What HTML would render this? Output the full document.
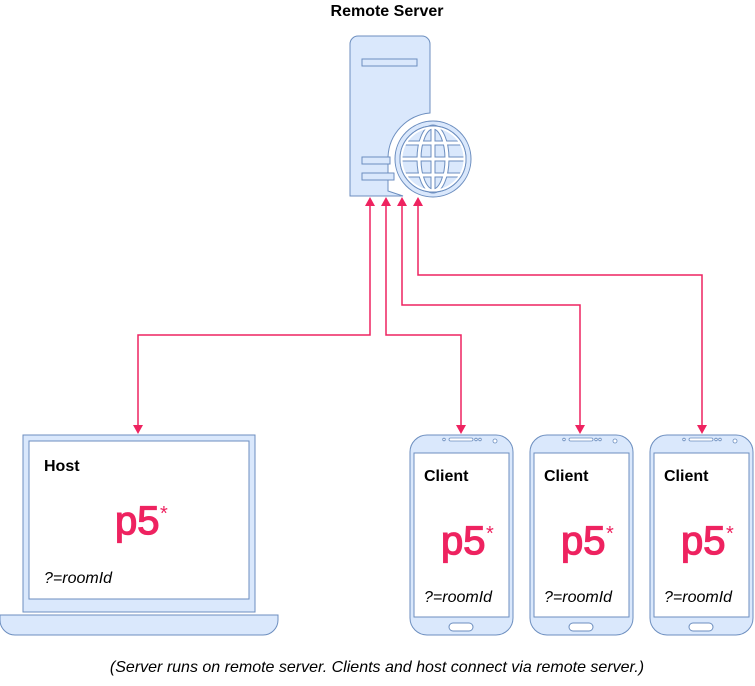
<!DOCTYPE html>
<html><head><style>
body{margin:0;background:#fff;}
svg text{font-family:"Liberation Sans",sans-serif;}
</style></head><body>
<svg width="755" height="681" viewBox="0 0 755 681" xmlns="http://www.w3.org/2000/svg">
<text x="387" y="16" font-size="16" font-weight="bold" text-anchor="middle">Remote Server</text>
<!-- server -->
<path d="M358,36 H422 a8,8 0 0 1 8,8 V113 A46,46 0 0 0 388,157 V191 L403,196 H350 V44 a8,8 0 0 1 8,-8 Z" fill="#dae8fc" stroke="#6c8ebf" stroke-width="1"/>
<rect x="362" y="59" width="55" height="7" fill="#dae8fc" stroke="#6c8ebf"/>
<rect x="362" y="157" width="28" height="7" fill="#dae8fc" stroke="#6c8ebf"/>
<rect x="362" y="173" width="32" height="7" fill="#dae8fc" stroke="#6c8ebf"/>
<circle cx="433" cy="159" r="41" fill="#fff"/>
<circle cx="433" cy="159" r="38" fill="#dae8fc" stroke="#6c8ebf"/>
<circle cx="433" cy="159" r="33" fill="#fff" stroke="#6c8ebf"/>
<circle cx="433" cy="159" r="31" fill="#dae8fc"/>
<g fill="none">
<g stroke="#6c8ebf" stroke-width="5">
<ellipse cx="433" cy="159" rx="14" ry="32"/>
<line x1="433" y1="127" x2="433" y2="191"/>
<line x1="401" y1="159" x2="465" y2="159"/>
<line x1="405" y1="143" x2="461" y2="143"/>
<line x1="405" y1="175" x2="461" y2="175"/>
</g>
<g stroke="#fff" stroke-width="3">
<ellipse cx="433" cy="159" rx="14" ry="32"/>
<line x1="433" y1="127" x2="433" y2="191"/>
<line x1="401" y1="159" x2="465" y2="159"/>
<line x1="405" y1="143" x2="461" y2="143"/>
<line x1="405" y1="175" x2="461" y2="175"/>
</g>
</g>
<circle cx="433" cy="159" r="33" fill="none" stroke="#6c8ebf"/>
<circle cx="433" cy="159" r="31.5" fill="none" stroke="#fff" stroke-width="2"/>
<!-- connectors -->
<g stroke="#ee2360" stroke-width="1.5" fill="none">
<path d="M370,206 V335 H138 V425"/>
<path d="M386,206 V335 H461 V425"/>
<path d="M402,206 V305 H580 V425"/>
<path d="M418,206 V275 H702 V425"/>
</g>
<g fill="#ee2360">
<path d="M365,206 L375,206 L370,197 Z"/>
<path d="M381,206 L391,206 L386,197 Z"/>
<path d="M397,206 L407,206 L402,197 Z"/>
<path d="M413,206 L423,206 L418,197 Z"/>
<path d="M133,425 L143,425 L138,434 Z"/>
<path d="M456,425 L466,425 L461,434 Z"/>
<path d="M575,425 L585,425 L580,434 Z"/>
<path d="M697,425 L707,425 L702,434 Z"/>
</g>
<!-- laptop -->
<rect x="23" y="435" width="232" height="177" fill="#dae8fc" stroke="#6c8ebf"/>
<rect x="29" y="441" width="220" height="158" fill="#fff" stroke="#6c8ebf"/>
<path d="M0,615 H278 V620 a15,15 0 0 1 -15,15 H15 a15,15 0 0 1 -15,-15 Z" fill="#dae8fc" stroke="#6c8ebf"/>
<text x="44" y="471" font-size="16" font-weight="bold">Host</text>
<text x="115" y="534" font-size="40" fill="#ee2360" stroke="#ee2360" stroke-width="1.3">p5</text>
<text x="160" y="520" font-size="20" fill="#ee2360">*</text>
<text x="44" y="583" font-size="16" font-style="italic">?=roomId</text>
<!-- phones -->
<g id="ph">
<rect x="410" y="435" width="103" height="200" rx="17" fill="#dae8fc" stroke="#6c8ebf"/>
<rect x="414" y="453" width="95" height="164" fill="#fff" stroke="#6c8ebf"/>
<rect x="449" y="438" width="24" height="3" rx="1.5" fill="#fff" stroke="#6c8ebf" stroke-width="0.8"/>
<circle cx="444" cy="439.5" r="1.3" fill="#fff" stroke="#6c8ebf" stroke-width="0.8"/>
<circle cx="476" cy="439.5" r="1.3" fill="#fff" stroke="#6c8ebf" stroke-width="0.8"/>
<circle cx="480" cy="439.5" r="1.3" fill="#fff" stroke="#6c8ebf" stroke-width="0.8"/>
<circle cx="495" cy="441" r="2" fill="#fff" stroke="#6c8ebf" stroke-width="0.8"/>
<rect x="449" y="623" width="24" height="8" rx="4" fill="#fff" stroke="#6c8ebf"/>
<text x="424" y="481" font-size="16" font-weight="bold">Client</text>
<text x="441" y="554" font-size="40" fill="#ee2360" stroke="#ee2360" stroke-width="1.3">p5</text>
<text x="486" y="540" font-size="20" fill="#ee2360">*</text>
<text x="424" y="602" font-size="16" font-style="italic">?=roomId</text>
</g>
<use href="#ph" x="120"/>
<use href="#ph" x="240"/>
<text x="377" y="672" font-size="16" font-style="italic" text-anchor="middle">(Server runs on remote server. Clients and host connect via remote server.)</text>
</svg>
</body></html>
